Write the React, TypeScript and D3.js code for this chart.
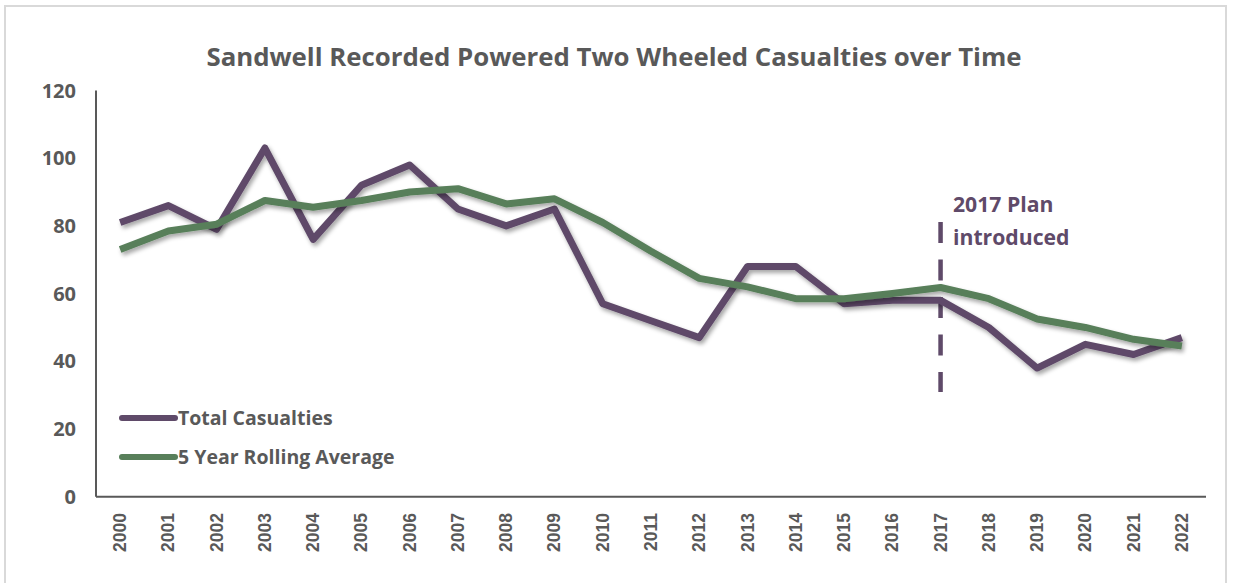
import React from "react";
import * as d3 from "d3";

const years = ["2000","2001","2002","2003","2004","2005","2006","2007","2008","2009","2010","2011","2012","2013","2014","2015","2016","2017","2018","2019","2020","2021","2022"];
const totalCasualties = [81, 86, 79, 103, 76, 92, 98, 85, 80, 85, 57, 52, 47, 68, 68, 57, 58, 58, 50, 38, 45, 42, 47];
const rollingAverage = [73, 78.5, 80.5, 87.5, 85.5, 87.5, 90, 91, 86.5, 88, 81, 72.5, 64.5, 62, 58.5, 58.5, 60, 61.8, 58.5, 52.5, 50, 46.5, 44.5];
const yTicks = [0, 20, 40, 60, 80, 100, 120];
const seriesNames = ["Total Casualties", "5 Year Rolling Average"];
const planYear = "2017";
const planLabel = ["2017 Plan", "introduced"];
const title = "Sandwell Recorded Powered Two Wheeled Casualties over Time";

const PURPLE = "#5f4a69";
const GREEN = "#587f5a";
const TEXT = "#595959";
const FONT = "'Open Sans', 'Noto Sans', sans-serif";

export default function App() {
  const W = 1235, H = 583;
  const left = 96, right = 1206, top = 90.5, bottom = 496.7;
  const x = d3.scalePoint<string>().domain(years).range([left, right]).padding(0.5);
  const y = d3.scaleLinear().domain([0, 120]).range([bottom, top]);
  const line = d3.line<number>().x((_, i) => x(years[i])!).y((d) => y(d));
  const px = x(planYear)!;

  return (
    <svg width={W} height={H} style={{ position: "absolute", left: 0, top: 0, background: "#fff" }}>
      <defs>
        <filter id="sh" x="-10%" y="-10%" width="120%" height="130%">
          <feDropShadow dx="2" dy="3" stdDeviation="2" floodColor="#000" floodOpacity="0.35" />
        </filter>
      </defs>
      <rect x={5} y={6} width={1221} height={590} fill="#fff" stroke="#d9d9d9" strokeWidth={2} />
      <text x={614} y={66} textAnchor="middle" fontFamily={FONT} fontWeight={700} fontSize={25.8} fill={TEXT}>{title}</text>

      {/* y axis */}
      <line x1={left} x2={left} y1={top} y2={bottom} stroke="#595959" strokeWidth={2} />
      {yTicks.map((t) => (
        <text key={t} x={76} y={y(t) + 7} textAnchor="end" fontFamily={FONT} fontWeight={700} fontSize={20} fill={TEXT}>{t}</text>
      ))}
      {/* x axis */}
      <line x1={left} x2={right} y1={bottom} y2={bottom} stroke="#595959" strokeWidth={2} />
      {years.map((yr) => (
        <text key={yr} transform={`translate(${x(yr)! + 6},513) rotate(-90)`} textAnchor="end" fontFamily="'Liberation Sans', Arial, sans-serif" fontWeight={700} fontSize={17.5} fill={TEXT}>{yr}</text>
      ))}

      {/* plan marker */}
      <line x1={px} x2={px} y1={222} y2={392} stroke={PURPLE} strokeWidth={4.5} strokeDasharray="21 16.5" />
      <text x={953} y={212} fontFamily={FONT} fontWeight={700} fontSize={21.2} fill={PURPLE}>{planLabel[0]}</text>
      <text x={953} y={245} fontFamily={FONT} fontWeight={700} fontSize={21.2} fill={PURPLE}>{planLabel[1]}</text>

      {/* series */}
      <path d={line(totalCasualties)!} fill="none" stroke={PURPLE} strokeWidth={7} strokeLinejoin="round" filter="url(#sh)" />
      <path d={line(rollingAverage)!} fill="none" stroke={GREEN} strokeWidth={7} strokeLinejoin="round" filter="url(#sh)" />

      {/* legend */}
      {seriesNames.map((n, i) => (
        <g key={n}>
          <line x1={122} x2={175} y1={418 + i * 39} y2={418 + i * 39} stroke={i === 0 ? PURPLE : GREEN} strokeWidth={6} strokeLinecap="round" />
          <text x={178} y={424.5 + i * 39} fontFamily={FONT} fontWeight={700} fontSize={19.5} fill={TEXT}>{n}</text>
        </g>
      ))}
    </svg>
  );
}
